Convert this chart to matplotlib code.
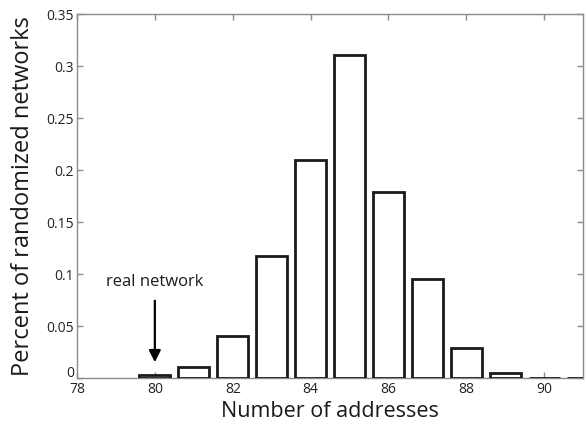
import matplotlib
matplotlib.use("Agg")
import matplotlib.pyplot as plt
import matplotlib.transforms as mtransforms

# Distribution of address counts across randomized networks
addresses = [80, 81, 82, 83, 84, 85, 86, 87, 88, 89, 90, 91]
fractions = [0.003, 0.011, 0.040, 0.117, 0.210, 0.311, 0.1785, 0.095, 0.0286, 0.0045, 0.0003, 0.0]
x_ticks = [78, 80, 82, 84, 86, 88, 90]
y_ticks = [0, 0.05, 0.1, 0.15, 0.2, 0.25, 0.3, 0.35]
y_tick_labels = ["0", "0.05", "0.1", "0.15", "0.2", "0.25", "0.3", "0.35"]
real_network = 80

plt.rcParams["font.family"] = ["Open Sans", "DejaVu Sans"]

fig = plt.figure(figsize=(5.86, 4.26), dpi=100)
ax = fig.add_axes([77 / 586, 1 - 378 / 426, (583 - 77) / 586, (378 - 14) / 426])

ax.bar(addresses, fractions, width=0.8, facecolor="white", edgecolor="#1a1a1a",
       linewidth=2.0, zorder=3)

ax.set_xlim(78, 91)
ax.set_ylim(0, 0.35)
ax.set_xticks(x_ticks)
ax.set_yticks(y_ticks)
ax.set_yticklabels(y_tick_labels)

spine_color = "#8c8c8c"
for s in ax.spines.values():
    s.set_color(spine_color)
    s.set_linewidth(1.0)
ax.tick_params(direction="in", length=4, width=1.0, color=spine_color,
               labelsize=10, labelcolor="#222222", top=True, right=True, pad=2)
ax.tick_params(axis="x", pad=3)

# lift the "0" label a little so it sits clear of the "78" below it
zero_label = ax.get_yticklabels()[0]
zero_label.set_transform(zero_label.get_transform() +
                         mtransforms.ScaledTranslation(0, 5 / 72, fig.dpi_scale_trans))

ax.set_xlabel("Number of addresses", fontsize=15.5, color="#1a1a1a", labelpad=3)
ax.set_ylabel("Percent of randomized networks", fontsize=17, color="#1a1a1a", labelpad=8)

ax.annotate("", xy=(real_network, 0.0125), xytext=(real_network, 0.077),
            arrowprops=dict(arrowstyle="-|>,head_width=0.35,head_length=0.7",
                            color="black", lw=1.6), zorder=4)
ax.text(real_network, 0.085, "real network", ha="center", va="bottom",
        fontsize=12, color="#1a1a1a")

fig.savefig("out.png", dpi=100)
